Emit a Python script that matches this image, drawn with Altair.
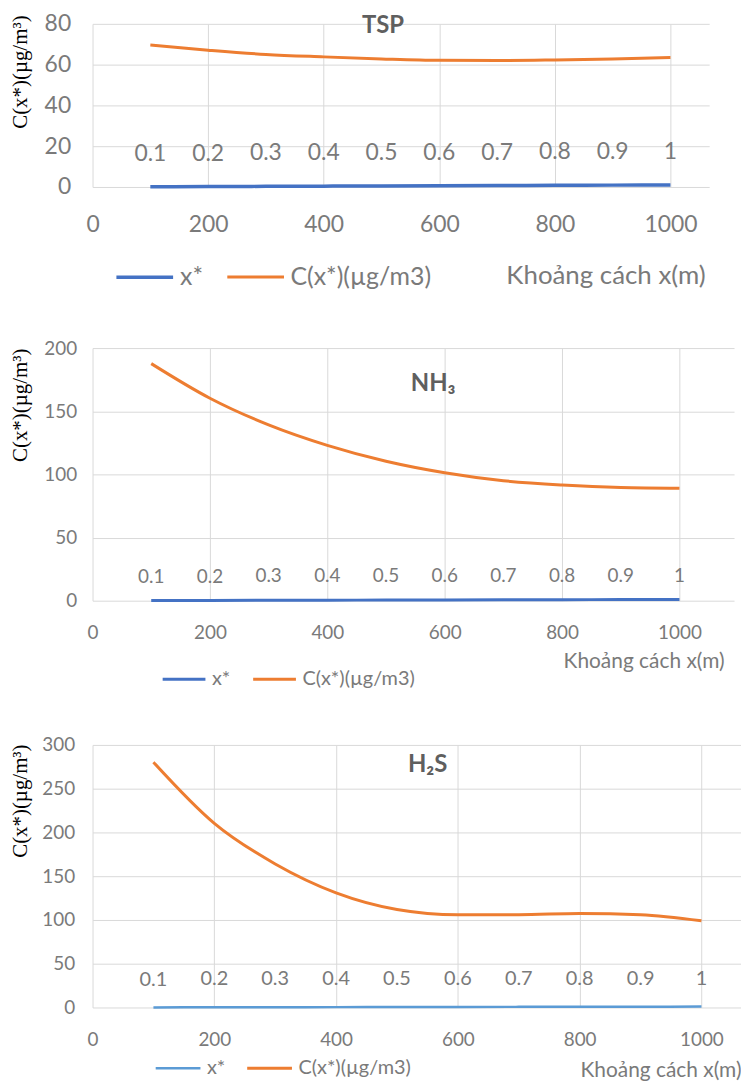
import altair as alt
import pandas as pd

# ---------------- data ----------------
distance_m = [100, 200, 300, 400, 500, 600, 700, 800, 900, 1000]
x_star = [0.1, 0.2, 0.3, 0.4, 0.5, 0.6, 0.7, 0.8, 0.9, 1.0]
x_star_labels = ["0.1", "0.2", "0.3", "0.4", "0.5", "0.6", "0.7", "0.8", "0.9", "1"]

tsp_c = [69.6, 67.1, 65.0, 63.8, 62.8, 62.1, 62.0, 62.3, 62.8, 63.5]
nh3_c = [187.7, 160.3, 139.2, 123.0, 110.4, 101.3, 95.0, 91.6, 89.6, 89.0]
h2s_c = [280.3, 210.4, 164.0, 131.0, 112.0, 106.0, 106.0, 107.5, 106.0, 99.0]

series_names = ["x*", "C(x*)(µg/m3)"]
x_ticks = [0, 200, 400, 600, 800, 1000]

ORANGE = "#ED7D31"
GRID = "#d9d9d9"
LABEL = "#7a7a7a"
SANS = "Lato, Carlito, 'Open Sans', sans-serif"
SERIF = "'Liberation Serif', 'Times New Roman', serif"


def panel(c_vals, title, ymax, ystep, width, height, xmax, blue,
          fs_tick, fs_data, fs_leg, fs_xtitle, data_dy,
          ylab_pad, xlab_pad, ytitle_y, xtitle_x, xtitle_y,
          leg_x, leg_y, sym_len, col_pad, title_dx, title_off, lw_blue):
    rows = []
    for d, xs, lab in zip(distance_m, x_star, x_star_labels):
        rows.append({"x": d, "v": xs, "s": series_names[0], "lbl": lab})
    for d, c in zip(distance_m, c_vals):
        rows.append({"x": d, "v": c, "s": series_names[1], "lbl": ""})
    df = pd.DataFrame(rows)

    xenc = alt.X(
        "x:Q",
        scale=alt.Scale(domain=[0, xmax], nice=False, zero=True),
        axis=alt.Axis(
            values=x_ticks, format="d", grid=True, gridColor=GRID, gridWidth=1,
            domain=False, ticks=False, labelFont=SANS, labelFontSize=fs_tick,
            labelColor=LABEL, labelPadding=xlab_pad, labelFlush=False,
            title="Khoảng cách x(m)", titleFont=SANS, titleFontSize=fs_xtitle,
            titleFontWeight="normal", titleColor=LABEL, titleAlign="right",
            titleBaseline="middle", titleX=xtitle_x, titleY=xtitle_y,
        ),
    )
    yenc = alt.Y(
        "v:Q",
        scale=alt.Scale(domain=[0, ymax], nice=False),
        axis=alt.Axis(
            values=list(range(0, ymax + 1, ystep)), grid=True, gridColor=GRID,
            gridWidth=1, domain=False, ticks=False, labelFont=SANS,
            labelFontSize=fs_tick, labelColor=LABEL, labelPadding=ylab_pad,
            title="C(x*)(µg/m³)", titleFont=SERIF, titleFontSize=21,
            titleFontWeight="normal", titleColor="#000000", titleAngle=270,
            titleAlign="right", titleBaseline="middle", titleX=-72,
            titleY=ytitle_y,
        ),
    )

    lines = alt.Chart(df).mark_line(interpolate="monotone").encode(
        x=xenc,
        y=yenc,
        color=alt.Color(
            "s:N",
            scale=alt.Scale(domain=series_names, range=[blue, ORANGE]),
            legend=alt.Legend(
                title=None, orient="none", direction="horizontal",
                legendX=leg_x, legendY=leg_y, symbolType="stroke",
                symbolSize=sym_len * sym_len, symbolStrokeWidth=3,
                labelFont=SANS, labelFontSize=fs_leg, labelColor=LABEL,
                labelOffset=5, columnPadding=col_pad, padding=0,
            ),
        ),
        strokeWidth=alt.StrokeWidth(
            "s:N", scale=alt.Scale(domain=series_names, range=[lw_blue, 3]),
            legend=None,
        ),
    )

    labels = alt.Chart(df[df["s"] == series_names[0]]).mark_text(
        dy=data_dy, font=SANS, fontSize=fs_data, color=LABEL
    ).encode(x="x:Q", y="v:Q", text="lbl:N")

    return alt.layer(lines, labels).properties(
        width=width,
        height=height,
        title=alt.TitleParams(
            text=title, font=SANS, fontSize=24, fontWeight="bold",
            color="#5f5f5f", anchor="middle", baseline="middle",
            offset=title_off, dx=title_dx,
        ),
    )


p1 = panel(tsp_c, "TSP", 80, 20, 620, 164, 1067, "#4472C4",
           fs_tick=23, fs_data=23, fs_leg=25, fs_xtitle=26, data_dy=-33,
           ylab_pad=22, xlab_pad=27, ytitle_y=-9, xtitle_x=616, xtitle_y=89,
           leg_x=22, leg_y=224, sym_len=57, col_pad=17,
           title_dx=-18, title_off=-37, lw_blue=3.5)

p2 = panel(nh3_c, "NH₃", 200, 50, 645, 254, 1093, "#4472C4",
           fs_tick=19, fs_data=19, fs_leg=20, fs_xtitle=21, data_dy=-24,
           ylab_pad=16, xlab_pad=23, ytitle_y=0, xtitle_x=635, xtitle_y=61,
           leg_x=69, leg_y=310, sym_len=43, col_pad=16,
           title_dx=20, title_off=-69, lw_blue=3)

p3 = panel(h2s_c, "H₂S", 300, 50, 652, 264, 1065, "#5B9BD5",
           fs_tick=19, fs_data=20, fs_leg=20, fs_xtitle=21, data_dy=-28,
           ylab_pad=18, xlab_pad=23, ytitle_y=-1, xtitle_x=652, xtitle_y=63,
           leg_x=62, leg_y=301, sym_len=45, col_pad=15,
           title_dx=11, title_off=-53, lw_blue=2.5)

top_pair = alt.vconcat(p1, p2, spacing=49).resolve_scale(
    color="independent", strokeWidth="independent"
).resolve_legend(color="independent")

chart = alt.vconcat(top_pair, p3, spacing=47).resolve_scale(
    color="independent", strokeWidth="independent"
).resolve_legend(color="independent").properties(
    padding={"left": 2, "top": 2, "right": 0, "bottom": 0}
).configure_view(stroke=None)

chart.save("out.html", embed_options={"renderer": "svg", "actions": False})
